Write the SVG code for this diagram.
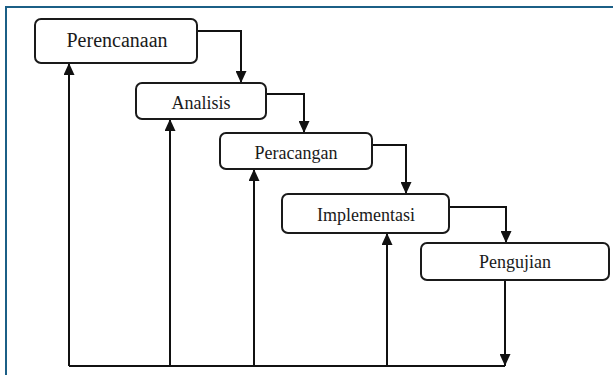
<svg xmlns="http://www.w3.org/2000/svg" width="613" height="375" viewBox="0 0 613 375">
  <defs>
    <style>
      .box { fill: #ffffff; stroke: #1a1a1a; stroke-width: 2; }
      .lbl { font-family: "Liberation Serif", "Times New Roman", serif; font-size: 18px; fill: #1a1a1a; text-anchor: middle; }
      .conn { fill: none; stroke: #111111; stroke-width: 2; }
      .frame { fill: none; stroke: #1b5f86; stroke-width: 2; }
    </style>
    <marker id="arr" viewBox="0 0 12 11" refX="12" refY="5.5" markerWidth="12" markerHeight="11" markerUnits="userSpaceOnUse" orient="auto">
      <path d="M0,0 L12,5.5 L0,11 Z" fill="#111111"/>
    </marker>
  </defs>
  <rect width="613" height="375" fill="#ffffff"/>
  <path class="frame" d="M6,375 L6,7 L613,7"/>

  <g id="connectors">
    <path class="conn" d="M197,31 H241 V83" marker-end="url(#arr)"/>
    <path class="conn" d="M266,94 H304 V133" marker-end="url(#arr)"/>
    <path class="conn" d="M372,145 H406 V194" marker-end="url(#arr)"/>
    <path class="conn" d="M449,207 H506 V243" marker-end="url(#arr)"/>
    <path class="conn" d="M505,280 V366" marker-end="url(#arr)"/>
    <path class="conn" d="M505,366 H69"/>
    <path class="conn" d="M69,366 V63" marker-end="url(#arr)"/>
    <path class="conn" d="M170,366 V119" marker-end="url(#arr)"/>
    <path class="conn" d="M254,366 V169" marker-end="url(#arr)"/>
    <path class="conn" d="M387,366 V233" marker-end="url(#arr)"/>
  </g>

  <g id="perencanaan">
    <rect class="box" x="35" y="19" width="162" height="44" rx="6"/>
    <text class="lbl" x="117" y="47" style="font-size:20px">Perencanaan</text>
  </g>
  <g id="analisis">
    <rect class="box" x="136" y="83" width="130" height="36" rx="6"/>
    <text class="lbl" x="201" y="109">Analisis</text>
  </g>
  <g id="peracangan">
    <rect class="box" x="220" y="133" width="152" height="36" rx="6"/>
    <text class="lbl" x="296" y="159">Peracangan</text>
  </g>
  <g id="implementasi">
    <rect class="box" x="282" y="194" width="167" height="39" rx="6"/>
    <text class="lbl" x="366" y="221">Implementasi</text>
  </g>
  <g id="pengujian">
    <rect class="box" x="421" y="243" width="188" height="37" rx="6"/>
    <text class="lbl" x="515" y="268">Pengujian</text>
  </g>
</svg>
